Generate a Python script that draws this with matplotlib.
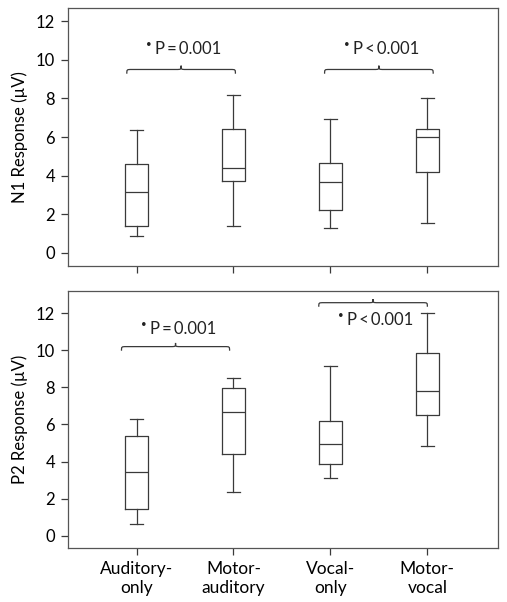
import matplotlib
matplotlib.use("Agg")
import matplotlib.pyplot as plt
from matplotlib.path import Path
from matplotlib.patches import PathPatch

plt.rcParams['font.family'] = ['Lato', 'DejaVu Sans']

categories = ["Auditory-\nonly", "Motor-\nauditory", "Vocal-\nonly", "Motor-\nvocal"]

# N1 response stats: whisker low, Q1, median, Q3, whisker high
n1_low = [0.85, 1.40, 1.28, 1.56]
n1_q1 = [1.37, 3.70, 2.20, 4.17]
n1_med = [3.16, 4.39, 3.65, 6.02]
n1_q3 = [4.58, 6.43, 4.67, 6.40]
n1_high = [6.35, 8.20, 6.95, 8.00]

# P2 response stats
p2_low = [0.61, 2.34, 3.09, 4.82]
p2_q1 = [1.46, 4.42, 3.87, 6.49]
p2_med = [3.44, 6.69, 4.93, 7.79]
p2_q3 = [5.36, 7.99, 6.20, 9.84]
p2_high = [6.31, 8.53, 9.17, 12.01]

yticks = [0, 2, 4, 6, 8, 10, 12]

W, H = 507, 602
fig = plt.figure(figsize=(W / 100, H / 100), dpi=100)

edge = '#3a3a3a'


def make_stats(low, q1, med, q3, high):
    out = []
    for i in range(len(low)):
        out.append(dict(whislo=low[i], q1=q1[i], med=med[i], q3=q3[i],
                        whishi=high[i], fliers=[]))
    return out


def brace(ax, x0, x1, y, h):
    # curly brace; h = height of the end hooks/center peak (data units)
    xm = (x0 + x1) / 2
    dx = 0.05
    verts = [
        (x0, y - h), (x0, y), (x0, y), (x0 + dx, y),
        (xm - dx, y),
        (xm, y), (xm, y), (xm, y + h * 0.9),
        (xm, y), (xm, y), (xm + dx, y),
        (x1 - dx, y),
        (x1, y), (x1, y), (x1, y - h),
    ]
    codes = [Path.MOVETO, Path.CURVE4, Path.CURVE4, Path.CURVE4,
             Path.LINETO,
             Path.CURVE4, Path.CURVE4, Path.CURVE4,
             Path.CURVE4, Path.CURVE4, Path.CURVE4,
             Path.LINETO,
             Path.CURVE4, Path.CURVE4, Path.CURVE4]
    ax.add_patch(PathPatch(Path(verts, codes), fill=False, lw=0.9,
                           edgecolor=edge))


def ptext(ax, x, y, s):
    ax.text(x, y, s, ha='left', va='center', fontsize=12, color='#222222')
    ax.annotate("\u2022", xy=(x, y), xytext=(-2.5, 3.5), textcoords='offset points',
                ha='right', va='center', fontsize=7, color='#222222')


def setup(ax, stats, ylim, ylabel, show_xlabels):
    ax.bxp(stats, positions=[1, 2, 3, 4], widths=0.24, showfliers=False,
           boxprops=dict(color=edge, lw=0.9),
           whiskerprops=dict(color=edge, lw=0.9),
           capprops=dict(color=edge, lw=0.9),
           medianprops=dict(color=edge, lw=0.9),
           capwidths=0.135)
    ax.set_xlim(0.29, 4.73)
    ax.set_ylim(*ylim)
    ax.set_yticks(yticks)
    ax.set_xticks([1, 2, 3, 4])
    if show_xlabels:
        ax.set_xticklabels(categories, fontsize=12.5, linespacing=1.25)
    else:
        ax.set_xticklabels([])
    ax.tick_params(axis='y', labelsize=12, length=5, width=0.9, color=edge, pad=4)
    ax.tick_params(axis='x', length=5, width=0.9, color=edge, pad=4)
    for sp in ax.spines.values():
        sp.set_color('#555555')
        sp.set_linewidth(0.9)
    ax.set_ylabel(ylabel, fontsize=12, labelpad=6)


ax1 = fig.add_axes([0.1335, 0.5586, 0.849, 0.4276])
setup(ax1, make_stats(n1_low, n1_q1, n1_med, n1_q3, n1_high), (-0.67, 12.67),
      "N1 Response (\u00b5V)", False)
brace(ax1, 0.90, 2.02, 9.5, 0.22)
brace(ax1, 2.94, 4.06, 9.5, 0.22)
ptext(ax1, 1.19, 10.55, "P\u2009=\u20090.001")
ptext(ax1, 3.23, 10.55, "P\u2009<\u20090.001")

ax2 = fig.add_axes([0.1335, 0.0892, 0.849, 0.4274])
setup(ax2, make_stats(p2_low, p2_q1, p2_med, p2_q3, p2_high), (-0.68, 13.2),
      "P2 Response (\u00b5V)", True)
brace(ax2, 0.845, 1.96, 10.2, 0.22)
brace(ax2, 2.88, 4.00, 12.57, 0.22)
ptext(ax2, 1.14, 11.13, "P\u2009=\u20090.001")
ptext(ax2, 3.175, 11.64, "P\u2009<\u20090.001")

fig.savefig("out.png", dpi=100)
